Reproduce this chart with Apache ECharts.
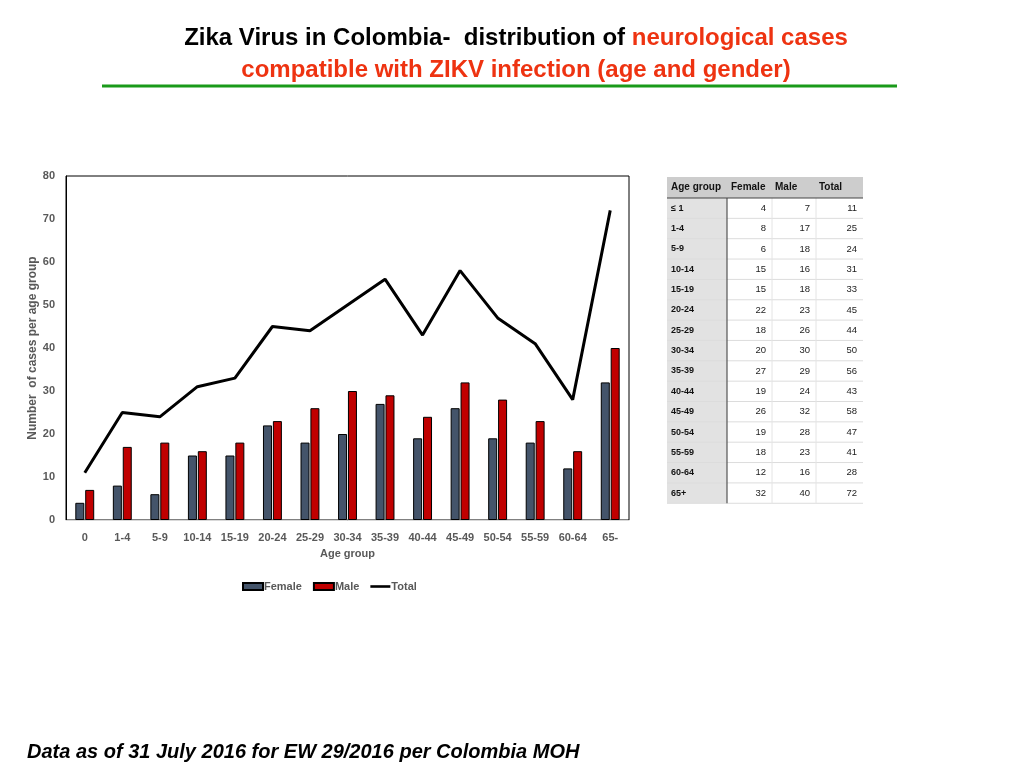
<!DOCTYPE html>
<html><head><meta charset="utf-8">
<script src="https://cdn.jsdelivr.net/npm/echarts@6/dist/echarts.min.js"></script>
<style>html,body{margin:0;padding:0;background:#fff}#c{width:1024px;height:768px}</style>
</head><body><div id="c"></div>
<script>
var categories = ['0','1-4','5-9','10-14','15-19','20-24','25-29','30-34','35-39','40-44','45-49','50-54','55-59','60-64','65-'];
var tableLabels = ['\u2264 1','1-4','5-9','10-14','15-19','20-24','25-29','30-34','35-39','40-44','45-49','50-54','55-59','60-64','65+'];
var female = [4,8,6,15,15,22,18,20,27,19,26,19,18,12,32];
var male = [7,17,18,16,18,23,26,30,29,24,32,28,23,16,40];
var total = [11,25,24,31,33,45,44,50,56,43,58,47,41,28,72];
var tableHeaders = ['Age group','Female','Male','Total'];
var yTicks = {min:0,max:80,interval:10};

var FONT = 'Liberation Sans, Arial, sans-serif';
var GRAY = '#595959';

// table graphic
var tx = 667, ty = 177, headH = 21, rowH = 20.35;
var colX = [667, 727, 772, 816, 863];
var g = [];
g.push({type:'rect', shape:{x:tx,y:ty,width:colX[4]-tx,height:headH}, style:{fill:'#cdcdcd'}});
g.push({type:'rect', shape:{x:tx,y:ty+headH,width:colX[1]-tx,height:rowH*tableLabels.length}, style:{fill:'#e2e2e2'}});
var hx = [671,731,775,819];
tableHeaders.forEach(function(h,i){
  g.push({type:'text', style:{x:hx[i], y:ty+headH/2, text:h, font:'bold 10px '+FONT, fill:'#111', textVerticalAlign:'middle'}});
});
tableLabels.forEach(function(lab,r){
  var y0 = ty+headH+r*rowH;
  g.push({type:'line', shape:{x1:tx,y1:y0+rowH,x2:colX[4],y2:y0+rowH}, style:{stroke:'#dcdcdc',lineWidth:1}});
  g.push({type:'text', style:{x:671, y:y0+rowH/2, text:lab, font:'bold 9px '+FONT, fill:'#111', textVerticalAlign:'middle'}});
  [female[r],male[r],total[r]].forEach(function(v,c){
    g.push({type:'text', style:{x:colX[c+2]-6, y:y0+rowH/2, text:String(v), font:'9.5px '+FONT, fill:'#222', textAlign:'right', textVerticalAlign:'middle'}});
  });
});
for (var c=2;c<4;c++){
  g.push({type:'line', shape:{x1:colX[c],y1:ty+headH,x2:colX[c],y2:ty+headH+rowH*tableLabels.length}, style:{stroke:'#e4e4e4',lineWidth:1}});
}
g.push({type:'line', shape:{x1:colX[1],y1:ty+headH,x2:colX[1],y2:ty+headH+rowH*tableLabels.length}, style:{stroke:'#555',lineWidth:1.2}});
g.push({type:'line', shape:{x1:tx,y1:ty+headH,x2:colX[4],y2:ty+headH}, style:{stroke:'#444',lineWidth:1.2}});
// title underline
g.push({type:'rect', shape:{x:102,y:84.5,width:795,height:3}, style:{fill:'#1a9a1a'}});
// footer
g.push({type:'text', style:{x:27, y:752, text:'Data as of 31 July 2016 for EW 29/2016 per Colombia MOH', font:'italic bold 20px '+FONT, fill:'#000', textVerticalAlign:'middle'}});

var chart = echarts.init(document.getElementById('c'));
chart.setOption({
  animation:false,
  title:{
    text:'{k|Zika Virus in Colombia\u2010  distribution of }{r|neurological cases}\n{r|compatible with ZIKV infection (age and gender)}',
    left:511, top:17, textAlign:'center',
    textStyle:{rich:{
      k:{fontFamily:FONT,fontWeight:'bold',fontSize:24,color:'#000',lineHeight:32},
      r:{fontFamily:FONT,fontWeight:'bold',fontSize:24,color:'#ee3311',lineHeight:32}
    }}
  },
  grid:{left:66,right:395,top:176,bottom:248,show:true,borderColor:'#000',borderWidth:1},
  legend:{
    left:237, top:576, itemWidth:20, itemHeight:7, itemGap:11,
    data:[
      {name:'Female', icon:'rect'},
      {name:'Male', icon:'rect'},
      {name:'Total', icon:'path://M0,0L0,0M0,2.2L20,2.2L20,4.8L0,4.8ZM20,7L20,7'}
    ],
    textStyle:{fontFamily:FONT,fontSize:11,fontWeight:'bold',color:GRAY,padding:[0,0,0,-4]}
  },
  xAxis:{
    type:'category', data:categories,
    name:'Age group', nameLocation:'middle', nameGap:28,
    nameTextStyle:{fontFamily:FONT,fontSize:11,fontWeight:'bold',color:GRAY},
    axisLine:{lineStyle:{color:'#d9d9d9',width:1}}, axisTick:{show:false},
    axisLabel:{fontFamily:FONT,fontSize:11,fontWeight:'bold',color:GRAY,margin:12,interval:0}
  },
  yAxis:{
    type:'value', min:yTicks.min, max:yTicks.max, interval:yTicks.interval,
    name:'Number  of cases per age group', nameLocation:'middle', nameGap:27, nameMoveOverlap:false,
    nameTextStyle:{fontFamily:FONT,fontSize:12,fontWeight:'bold',color:GRAY},
    axisLine:{show:true,lineStyle:{color:'#000'}}, axisTick:{show:false}, splitLine:{show:false},
    axisLabel:{fontFamily:FONT,fontSize:11,fontWeight:'bold',color:GRAY,margin:11}
  },
  series:[
    {name:'Female', type:'bar', data:female, barWidth:9, barGap:'10%',
      itemStyle:{color:'#44546a',borderColor:'#000',borderWidth:1}},
    {name:'Male', type:'bar', data:male, barWidth:9, barGap:'10%',
      itemStyle:{color:'#c00000',borderColor:'#000',borderWidth:1}},
    {name:'Total', type:'line', data:total, symbol:'none', lineStyle:{color:'#000',width:3}, itemStyle:{color:'#000'}}
  ],
  graphic:g
});
</script></body></html>
